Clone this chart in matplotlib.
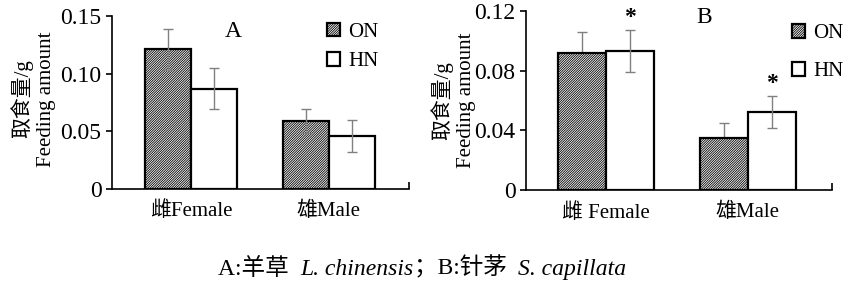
import matplotlib
matplotlib.use('Agg')
import matplotlib.pyplot as plt
from matplotlib.offsetbox import TextArea, HPacker, AnchoredOffsetbox

plt.rcParams['font.family'] = ['Liberation Serif', 'Noto Sans CJK SC']
plt.rcParams['hatch.linewidth'] = 0.6
plt.rcParams['hatch.color'] = 'black'

# panel A: L. chinensis
labels_a = ['雌Female', '雄Male']
on_a = [0.121, 0.059]
on_a_err = [0.018, 0.0105]
hn_a = [0.087, 0.046]
hn_a_err = [0.018, 0.014]

# panel B: S. capillata
labels_b = ['雌 Female', '雄Male']
on_b = [0.0915, 0.0347]
on_b_err = [0.0145, 0.0105]
hn_b = [0.093, 0.0521]
hn_b_err = [0.0138, 0.0106]
sig_b = ['*', '*']  # marks over HN bars

ylabel = '取食量/g\nFeeding amount'
series = ['ON', 'HN']

fig = plt.figure(figsize=(8.51, 2.86), dpi=100)
ax_a = fig.add_axes([0.1316, 0.3392, 0.349, 0.605])
ax_b = fig.add_axes([0.6181, 0.3346, 0.3596, 0.628])

W = 0.335
FS = 17     # tick numbers, letters
FS2 = 15    # category labels, legend, y label


def panel(ax, labels, on, on_err, hn, hn_err, ymax, yticks, yticklabels,
          letter, letter_xy, leg_xy, leg_space, xlim, on_err_behind=False):
    x = list(range(len(labels)))
    xo = [i - W / 2 for i in x]
    xh = [i + W / 2 for i in x]
    ax.bar(xo, on, W, facecolor='white', edgecolor='black', hatch='/' * 14,
           linewidth=1.6, label=series[0], zorder=2)
    ax.bar(xh, hn, W, facecolor='white', edgecolor='black',
           linewidth=1.6, label=series[1], zorder=2)
    ax.errorbar(xo, on, yerr=on_err, fmt='none', ecolor='#808080', elinewidth=1,
                capsize=3.5, capthick=1, zorder=1 if on_err_behind else 3)
    ax.errorbar(xh, hn, yerr=hn_err, fmt='none', ecolor='#808080', elinewidth=1,
                capsize=3.5, capthick=1, zorder=3)
    ax.set_xlim(*xlim)
    ax.set_ylim(0, ymax)
    ax.set_xticks(x)
    ax.set_xticklabels(labels, fontsize=FS2)
    ax.set_yticks(yticks)
    ax.set_yticklabels(yticklabels, fontsize=FS)
    ax.tick_params(axis='y', direction='out', length=4, width=1.2)
    ax.tick_params(axis='x', which='major', length=0, pad=9)
    ax.set_xticks([xlim[1]], minor=True)
    ax.tick_params(axis='x', which='minor', direction='in', length=5, width=1.2)
    for s in ['top', 'right']:
        ax.spines[s].set_visible(False)
    for s in ['left', 'bottom']:
        ax.spines[s].set_linewidth(1.2)
    ax.text(letter_xy[0], letter_xy[1], letter, transform=ax.transAxes,
            fontsize=FS, ha='center', va='center')
    ax.legend(loc='upper left', bbox_to_anchor=leg_xy, frameon=False,
              fontsize=FS2, handlelength=0.62, handleheight=0.62,
              handletextpad=0.4, labelspacing=leg_space, borderpad=0,
              borderaxespad=0)
    ax.set_ylabel(ylabel, fontsize=FS2, linespacing=1.25)
    return xh


panel(ax_a, labels_a, on_a, on_a_err, hn_a, hn_a_err, 0.15,
      [0, 0.05, 0.10, 0.15], ['0', '0.05', '0.10', '0.15'],
      'A', (0.407, 0.908), (0.724, 0.96), 0.5, (-0.572, 1.58))
ax_a.yaxis.set_label_coords(-0.19, 0.52)

xh_b = panel(ax_b, labels_b, on_b, on_b_err, hn_b, hn_b_err, 0.12,
             [0, 0.04, 0.08, 0.12], ['0', '0.04', '0.08', '0.12'],
             'B', (0.582, 0.964), (0.869, 0.925), 0.9, (-0.563, 1.592),
             on_err_behind=True)
ax_b.yaxis.set_label_coords(-0.163, 0.5)
for xi, v, e, s in zip(xh_b, hn_b, hn_b_err, sig_b):
    ax_b.text(xi, v + e + 0.0015, s, ha='center', va='bottom', fontsize=FS,
              fontweight='bold', clip_on=False)

# caption with italic species names
cap = [('A:羊草  ', 'normal'), ('L. chinensis', 'italic'),
       ('；B:针茅  ', 'normal'), ('S. capillata', 'italic')]
parts = [TextArea(t, textprops=dict(fontsize=17, style=st)) for t, st in cap]
box = HPacker(children=parts, align='baseline', pad=0, sep=0)
anc = AnchoredOffsetbox(loc='center', child=box, frameon=False, pad=0,
                        bbox_to_anchor=(0.496, 0.063),
                        bbox_transform=fig.transFigure, borderpad=0)
fig.add_artist(anc)

fig.savefig('out.png', dpi=100)
